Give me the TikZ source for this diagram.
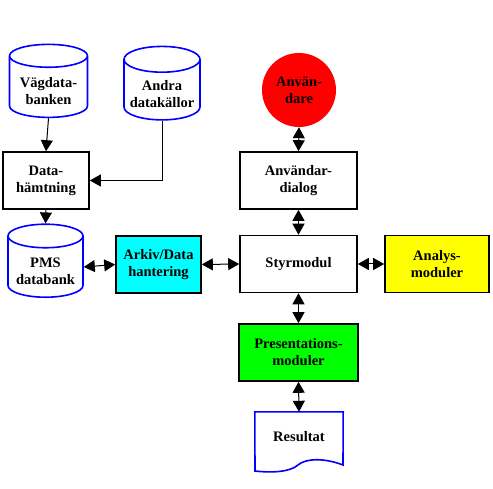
\documentclass[tikz,border=0pt]{standalone}
\usepackage{fontspec}
\setmainfont{Liberation Serif}
\usetikzlibrary{arrows.meta,shapes.geometric}

\definecolor{pmsblue}{RGB}{0,0,255}
\definecolor{arkcyan}{RGB}{0,255,255}
\definecolor{anayellow}{RGB}{255,255,0}
\definecolor{pregreen}{RGB}{0,255,0}
\definecolor{anvred}{RGB}{255,0,0}
% text i databas, lite nedflyttad
\newcommand{\dbtxt}[1]{\raisebox{-6pt}[\height][\depth]{\begin{tabular}{@{}c@{}}#1\end{tabular}}}

\begin{document}
\begin{tikzpicture}
    [x=1pt,y=-1pt,>={Triangle[length=11pt,width=12pt]},
     every node/.style={font=\bfseries\fontsize{14.5}{17}\selectfont,align=center,inner sep=0pt},
     box/.style={draw,line width=1.6pt,minimum height=57pt},
     dbase/.style={draw=pmsblue,line width=1.6pt,cylinder,shape border rotate=90,aspect=0.4,
       minimum width=78pt,minimum height=73pt},
     link/.style={<->,line width=1pt}]
    \useasboundingbox (0,0) rectangle (493,489);

    \node[dbase] (nvag) at (48.5,87) {\dbtxt{Vägdata-\\banken}};
    \node[dbase,minimum width=76pt,minimum height=71pt] (nandra) at (162,90) {\dbtxt{Andra\\datakällor}};
    \node[box,minimum width=86pt] (ndat) at (46,180.5) {Data-\\hämtning};
    \node[dbase,minimum width=75pt] (npms) at (45.5,267) {\dbtxt{PMS\\databank}};
    \node[box,fill=arkcyan,minimum width=85pt] (nark) at (158.5,264.5) {Arkiv/Data\\hantering};
    \node[box,minimum width=117pt] (nstyr) at (298.5,264) {Styrmodul};
    \node[box,minimum width=117pt] (ndia) at (298.5,180.5) {Användar-\\dialog};
    \node[circle,fill=anvred,minimum size=74pt] (nanv) at (299,90) {Använ-\\dare};
    \node[box,fill=anayellow,minimum width=104pt] (nana) at (437,264) {Analys-\\moduler};
    \node[box,fill=pregreen,minimum width=119pt] (npre) at (298.5,352.5) {Presentations-\\moduler};
    \node[minimum width=88pt,minimum height=50pt] (nres) at (299,437) {Resultat};

    % dokumentsymbol
    \draw[pmsblue,line width=1.6pt] (nres.north west) -- (nres.north east) -- (343,465)
      .. controls (325,458) and (306,458) .. (298,465)
      .. controls (290,472) and (272,473) .. (255,471) -- cycle;

    \draw[->,line width=1pt] (nvag.south) -- (ndat.north);
    \draw[->,line width=1pt] (nandra.south) |- (ndat.east);
    \draw[->,line width=1pt] (ndat.south) -- (npms.north);

    \draw[link] (npms.east) -- (nark.west);
    \draw[link] (nark.east) -- (nstyr.west);
    \draw[link] (nstyr.east) -- (nana.west);
    \draw[link] (nanv.south) -- (ndia.north);
    \draw[link] (ndia.south) -- (nstyr.north);
    \draw[link] (nstyr.south) -- (npre.north);
    \draw[link] (npre.south) -- (nres.north);

  \end{tikzpicture}
\end{document}
